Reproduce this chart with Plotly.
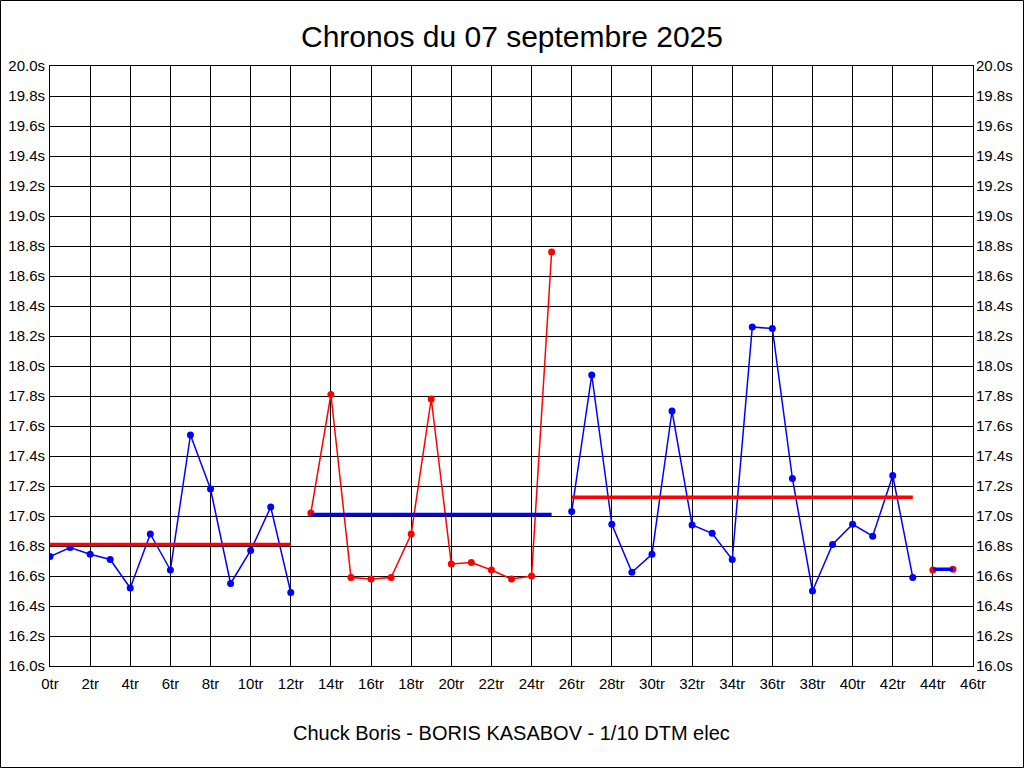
import plotly.graph_objects as go

# --- Data ---
laps_s1 = list(range(0, 13))
times_s1 = [16.73, 16.79, 16.745, 16.71, 16.52, 16.88, 16.64, 17.54, 17.18, 16.55, 16.77, 17.06, 16.49]

laps_s2 = list(range(13, 26))
times_s2 = [17.02, 17.81, 16.59, 16.58, 16.59, 16.88, 17.78, 16.68, 16.69, 16.64, 16.58, 16.60, 18.76]

laps_s3 = list(range(26, 44))
times_s3 = [17.03, 17.94, 16.945, 16.625, 16.745, 17.70, 16.94, 16.885, 16.71, 18.26, 18.25,
            17.25, 16.50, 16.81, 16.945, 16.865, 17.27, 16.59]

laps_s4 = [44, 45]
times_s4 = [16.64, 16.645]

averages = [16.81, 17.01, 17.125, 16.645]

series = [
    (laps_s1, times_s1, "blue", "red"),
    (laps_s2, times_s2, "red", "blue"),
    (laps_s3, times_s3, "blue", "red"),
    (laps_s4, times_s4, "red", "blue"),
]

title_text = "Chronos du 07 septembre 2025"
footer_text = "Chuck Boris - BORIS KASABOV - 1/10 DTM elec"

FONT = "Liberation Sans, Arial, sans-serif"

fig = go.Figure()
for (laps, times, col, avgcol), avg in zip(series, averages):
    fig.add_trace(go.Scatter(
        x=laps, y=times, mode="lines+markers",
        line=dict(color=col, width=1.5),
        marker=dict(color=col, size=7),
        showlegend=False, hoverinfo="x+y",
    ))
    fig.add_trace(go.Scatter(
        x=[laps[0], laps[-1]], y=[avg, avg], mode="lines",
        line=dict(color=avgcol, width=3.5),
        showlegend=False, hoverinfo="y",
    ))

# invisible trace to carry the right-hand axis
fig.add_trace(go.Scatter(x=[0], y=[16], yaxis="y2", mode="markers",
                         marker=dict(opacity=0), showlegend=False, hoverinfo="skip"))

tickfont = dict(family=FONT, size=15, color="black")
axis_common = dict(
    showgrid=True, gridcolor="black", gridwidth=1,
    showline=True, linecolor="black", linewidth=1, mirror=True,
    zeroline=False, ticks="", automargin=False, tickfont=tickfont,
)

fig.update_layout(
    width=1024, height=768,
    paper_bgcolor="white", plot_bgcolor="white",
    margin=dict(l=50, r=51, t=66, b=102, autoexpand=False),
    title=dict(text=title_text, x=0.5, xanchor="center", y=1 - 36 / 768, yanchor="middle",
               yref="container", font=dict(family=FONT, size=30, color="black")),
    xaxis=dict(range=[0, 46], dtick=2, tick0=0, ticksuffix="tr", ticklabelstandoff=4,
               **axis_common),
    yaxis=dict(range=[16.0, 20.0], dtick=0.2, tick0=16.0, tickformat=".1f", ticksuffix="s",
               ticklabelstandoff=1, **axis_common),
    yaxis2=dict(range=[16.0, 20.0], dtick=0.2, tick0=16.0, tickformat=".1f", ticksuffix="s",
                overlaying="y", side="right", showgrid=False, zeroline=False, ticks="",
                showline=False, automargin=False, ticklabelstandoff=2, tickfont=tickfont),
    annotations=[dict(text=footer_text, x=0.5, xref="paper", y=(666 - 733) / 600, yref="paper",
                      xanchor="center", yanchor="middle", showarrow=False,
                      font=dict(family=FONT, size=20, color="black"))],
    shapes=[dict(type="rect", xref="paper", yref="paper",
                 x0=-49.5 / 923, x1=1 + 50.5 / 923, y0=-101.5 / 600, y1=1 + 65.5 / 600,
                 line=dict(color="black", width=1), layer="below")],
    hovermode="closest",
)

fig.write_html("out.html", config={"displayModeBar": False},
               post_script="document.body.style.margin='0px';document.body.style.overflow='hidden';")
